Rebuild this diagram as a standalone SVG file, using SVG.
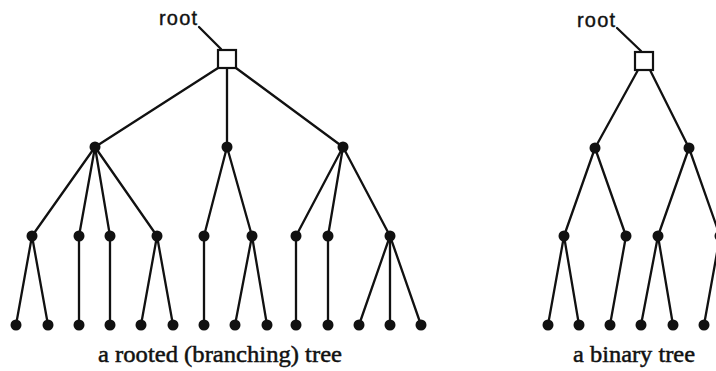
<svg xmlns="http://www.w3.org/2000/svg" width="716" height="371" viewBox="0 0 716 371">
  <style>
    .edge { stroke: #111; stroke-width: 2.3; fill: none; stroke-linecap: round; }
    .dot { fill: #111; }
    .rootbox { fill: #fff; stroke: #111; stroke-width: 2.2; }
    .lbl { font-family: "Liberation Sans", Arial, sans-serif; font-size: 20px; fill: #111; stroke: #111; stroke-width: 0.4; }
    .cap { font-family: "Liberation Serif", "Times New Roman", serif; font-size: 24px; fill: #111; stroke: #111; stroke-width: 0.5; }
  </style>
  <defs>
    <circle id="n" r="5.5" class="dot"/>
  </defs>
  <rect width="716" height="371" fill="#fff"/>

  <!-- connectors -->
  <g id="connectors" class="edge">
    <!-- rooted (branching) tree -->
    <line x1="199" y1="27" x2="221" y2="49"/>
    <line x1="218" y1="68" x2="95" y2="147"/>
    <line x1="227" y1="68" x2="227" y2="147"/>
    <line x1="236" y1="68" x2="343" y2="147"/>
    <line x1="95" y1="147" x2="32" y2="236"/>
    <line x1="95" y1="147" x2="79" y2="236"/>
    <line x1="95" y1="147" x2="110" y2="236"/>
    <line x1="95" y1="147" x2="157" y2="236"/>
    <line x1="227" y1="147" x2="204" y2="236"/>
    <line x1="227" y1="147" x2="252" y2="236"/>
    <line x1="343" y1="147" x2="296" y2="236"/>
    <line x1="343" y1="147" x2="328" y2="236"/>
    <line x1="343" y1="147" x2="390" y2="236"/>
    <line x1="32" y1="236" x2="16" y2="325"/>
    <line x1="32" y1="236" x2="48" y2="325"/>
    <line x1="79" y1="236" x2="79" y2="325"/>
    <line x1="110" y1="236" x2="110" y2="325"/>
    <line x1="157" y1="236" x2="141" y2="325"/>
    <line x1="157" y1="236" x2="173" y2="325"/>
    <line x1="204" y1="236" x2="204" y2="325"/>
    <line x1="252" y1="236" x2="235" y2="325"/>
    <line x1="252" y1="236" x2="267" y2="325"/>
    <line x1="296" y1="236" x2="296" y2="325"/>
    <line x1="328" y1="236" x2="328" y2="325"/>
    <line x1="390" y1="236" x2="359" y2="325"/>
    <line x1="390" y1="236" x2="390" y2="325"/>
    <line x1="390" y1="236" x2="421" y2="325"/>
    <!-- binary tree -->
    <line x1="617" y1="28" x2="641" y2="51"/>
    <line x1="638" y1="70" x2="595" y2="148"/>
    <line x1="650" y1="70" x2="689" y2="148"/>
    <line x1="595" y1="148" x2="564" y2="236"/>
    <line x1="595" y1="148" x2="626" y2="236"/>
    <line x1="689" y1="148" x2="658" y2="236"/>
    <line x1="689" y1="148" x2="720" y2="236"/>
    <line x1="564" y1="236" x2="548" y2="325"/>
    <line x1="564" y1="236" x2="579" y2="325"/>
    <line x1="626" y1="236" x2="610" y2="325"/>
    <line x1="658" y1="236" x2="641" y2="325"/>
    <line x1="658" y1="236" x2="673" y2="325"/>
    <line x1="720" y1="236" x2="704" y2="325"/>
  </g>

  <!-- rooted (branching) tree nodes -->
  <g id="tree1-root">
    <rect class="rootbox" x="218" y="50" width="18" height="18"/>
    <text class="lbl" x="159" y="25" textLength="38">root</text>
  </g>
  <g id="tree1-a1"><use href="#n" x="95" y="147"/></g>
  <g id="tree1-a2"><use href="#n" x="227" y="147"/></g>
  <g id="tree1-a3"><use href="#n" x="343" y="147"/></g>
  <g id="tree1-b1"><use href="#n" x="32" y="236"/></g>
  <g id="tree1-b2"><use href="#n" x="79" y="236"/></g>
  <g id="tree1-b3"><use href="#n" x="110" y="236"/></g>
  <g id="tree1-b4"><use href="#n" x="157" y="236"/></g>
  <g id="tree1-b5"><use href="#n" x="204" y="236"/></g>
  <g id="tree1-b6"><use href="#n" x="252" y="236"/></g>
  <g id="tree1-b7"><use href="#n" x="296" y="236"/></g>
  <g id="tree1-b8"><use href="#n" x="328" y="236"/></g>
  <g id="tree1-b9"><use href="#n" x="390" y="236"/></g>
  <g id="tree1-leaf1"><use href="#n" x="16" y="325"/></g>
  <g id="tree1-leaf2"><use href="#n" x="48" y="325"/></g>
  <g id="tree1-leaf3"><use href="#n" x="79" y="325"/></g>
  <g id="tree1-leaf4"><use href="#n" x="110" y="325"/></g>
  <g id="tree1-leaf5"><use href="#n" x="141" y="325"/></g>
  <g id="tree1-leaf6"><use href="#n" x="173" y="325"/></g>
  <g id="tree1-leaf7"><use href="#n" x="204" y="325"/></g>
  <g id="tree1-leaf8"><use href="#n" x="235" y="325"/></g>
  <g id="tree1-leaf9"><use href="#n" x="267" y="325"/></g>
  <g id="tree1-leaf10"><use href="#n" x="296" y="325"/></g>
  <g id="tree1-leaf11"><use href="#n" x="328" y="325"/></g>
  <g id="tree1-leaf12"><use href="#n" x="359" y="325"/></g>
  <g id="tree1-leaf13"><use href="#n" x="390" y="325"/></g>
  <g id="tree1-leaf14"><use href="#n" x="421" y="325"/></g>
  <text class="cap" x="98" y="362" textLength="244" lengthAdjust="spacingAndGlyphs">a rooted (branching) tree</text>

  <!-- binary tree nodes -->
  <g id="tree2-root">
    <rect class="rootbox" x="635" y="52" width="18" height="18"/>
    <text class="lbl" x="577" y="27" textLength="38">root</text>
  </g>
  <g id="tree2-c1"><use href="#n" x="595" y="148"/></g>
  <g id="tree2-c2"><use href="#n" x="689" y="148"/></g>
  <g id="tree2-d1"><use href="#n" x="564" y="236"/></g>
  <g id="tree2-d2"><use href="#n" x="626" y="236"/></g>
  <g id="tree2-d3"><use href="#n" x="658" y="236"/></g>
  <g id="tree2-d4"><use href="#n" x="720" y="236"/></g>
  <g id="tree2-leaf1"><use href="#n" x="548" y="325"/></g>
  <g id="tree2-leaf2"><use href="#n" x="579" y="325"/></g>
  <g id="tree2-leaf3"><use href="#n" x="610" y="325"/></g>
  <g id="tree2-leaf4"><use href="#n" x="641" y="325"/></g>
  <g id="tree2-leaf5"><use href="#n" x="673" y="325"/></g>
  <g id="tree2-leaf6"><use href="#n" x="704" y="325"/></g>
  <text class="cap" x="573" y="362" textLength="122" lengthAdjust="spacingAndGlyphs">a binary tree</text>
</svg>
